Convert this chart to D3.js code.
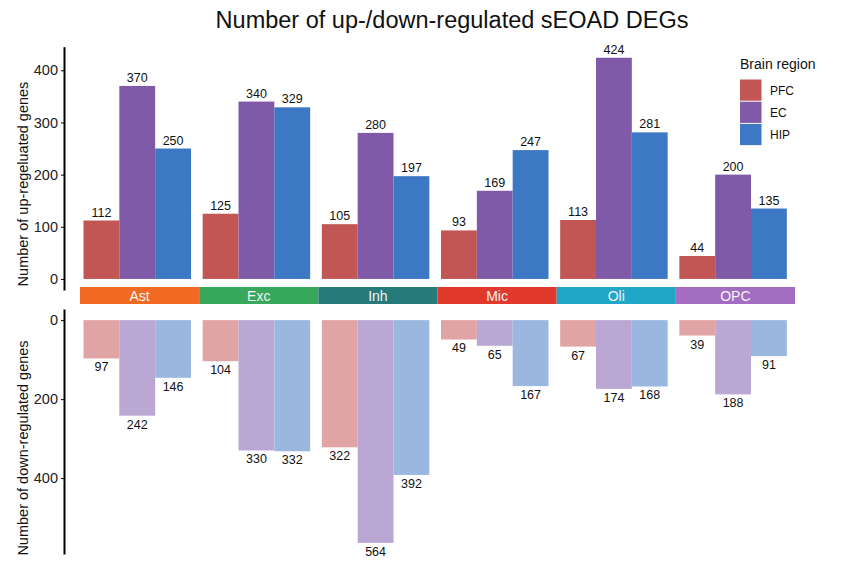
<!DOCTYPE html>
<html>
<head>
<meta charset="utf-8">
<script src="https://cdn.jsdelivr.net/npm/d3@7"></script>
<style>
  body { margin: 0; background: #fff; }
  svg { font-family: "Liberation Sans", Arial, sans-serif; }
</style>
</head>
<body>
<svg id="chart"></svg>
<script>
// data
const cellTypes = ['Ast', 'Exc', 'Inh', 'Mic', 'Oli', 'OPC'];
const regions = ['PFC', 'EC', 'HIP'];
const upPFC = [112, 125, 105, 93, 113, 44];
const upEC = [370, 340, 280, 169, 424, 200];
const upHIP = [250, 329, 197, 247, 281, 135];
const downPFC = [97, 104, 322, 49, 67, 39];
const downEC = [242, 330, 564, 65, 174, 188];
const downHIP = [146, 332, 392, 167, 168, 91];
const yTicksUp = [0, 100, 200, 300, 400];
const yTicksDown = [0, 200, 400];

const regionColors = {PFC: '#c25655', EC: '#8159a9', HIP: '#3d78c4'};
const regionLight = {PFC: '#dfa4a3', EC: '#bba7d4', HIP: '#9ab7e0'};
const stripColors = ['#f06a22', '#37a85b', '#277a7a', '#e1392b', '#20a7c8', '#a36dc3'];

const upData = [], downData = [];
cellTypes.forEach((c, i) => {
  upData.push({cell: c, region: 'PFC', value: upPFC[i]},
              {cell: c, region: 'EC', value: upEC[i]},
              {cell: c, region: 'HIP', value: upHIP[i]});
  downData.push({cell: c, region: 'PFC', value: downPFC[i]},
                {cell: c, region: 'EC', value: downEC[i]},
                {cell: c, region: 'HIP', value: downHIP[i]});
});

const W = 850, H = 564;
const svg = d3.select('#chart').attr('width', W).attr('height', H);

// layout
const axisX = 64;
const groupScale = d3.scaleBand().domain(cellTypes).range([80, 795]);
const barScale = d3.scaleBand().domain(regions).range([3.5, 111]);

// ggplot-like 5% expansion
const upMax = d3.max(upData, d => d.value);
const downMax = d3.max(downData, d => d.value);
const yUp = d3.scaleLinear()
  .domain([-upMax * 0.05, upMax * 1.05])
  .range([290, 46.7]);
const yDown = d3.scaleLinear()
  .domain([-downMax * 0.05, downMax * 1.05])
  .range([309, 554]);

// title
svg.append('text')
  .attr('x', 452).attr('y', 28)
  .attr('text-anchor', 'middle')
  .style('font-size', '23.5px')
  .style('fill', '#111')
  .text('Number of up-/down-regulated sEOAD DEGs');

// up bars
const upG = svg.append('g');
upG.selectAll('rect')
  .data(upData)
  .join('rect')
  .attr('x', d => groupScale(d.cell) + barScale(d.region))
  .attr('width', barScale.bandwidth())
  .attr('y', d => yUp(d.value))
  .attr('height', d => yUp(0) - yUp(d.value))
  .attr('fill', d => regionColors[d.region]);

upG.selectAll('text')
  .data(upData)
  .join('text')
  .attr('x', d => groupScale(d.cell) + barScale(d.region) + barScale.bandwidth() / 2)
  .attr('y', d => yUp(d.value) - 4)
  .attr('text-anchor', 'middle')
  .style('font-size', '12.5px')
  .style('fill', '#111')
  .text(d => d.value);

// down bars
const downG = svg.append('g');
downG.selectAll('rect')
  .data(downData)
  .join('rect')
  .attr('x', d => groupScale(d.cell) + barScale(d.region))
  .attr('width', barScale.bandwidth())
  .attr('y', yDown(0))
  .attr('height', d => yDown(d.value) - yDown(0))
  .attr('fill', d => regionLight[d.region]);

downG.selectAll('text')
  .data(downData)
  .join('text')
  .attr('x', d => groupScale(d.cell) + barScale(d.region) + barScale.bandwidth() / 2)
  .attr('y', d => yDown(d.value) + 13)
  .attr('text-anchor', 'middle')
  .style('font-size', '12.5px')
  .style('fill', '#111')
  .text(d => d.value);

// cell type strips
const strip = svg.append('g');
strip.selectAll('rect')
  .data(cellTypes)
  .join('rect')
  .attr('x', d => groupScale(d))
  .attr('width', groupScale.bandwidth())
  .attr('y', 287)
  .attr('height', 17)
  .attr('fill', (d, i) => stripColors[i]);
strip.selectAll('text')
  .data(cellTypes)
  .join('text')
  .attr('x', d => groupScale(d) + groupScale.bandwidth() / 2)
  .attr('y', 300.5)
  .attr('text-anchor', 'middle')
  .style('font-size', '14px')
  .style('fill', '#f4f4f4')
  .text(d => d);

// axes
const styleAxis = g => {
  g.select('.domain').attr('stroke', '#000').attr('stroke-width', 2);
  g.selectAll('.tick line').attr('stroke', '#000');
  g.selectAll('.tick text').style('font-size', '14.5px').style('fill', '#222')
    .style('font-family', '"Liberation Sans", Arial, sans-serif');
};
svg.append('g')
  .attr('transform', `translate(${axisX},0)`)
  .call(d3.axisLeft(yUp).tickValues(yTicksUp).tickSize(3).tickPadding(3).tickSizeOuter(0))
  .call(styleAxis);
svg.append('g')
  .attr('transform', `translate(${axisX},0)`)
  .call(d3.axisLeft(yDown).tickValues(yTicksDown).tickSize(3).tickPadding(3).tickSizeOuter(0))
  .call(styleAxis);

// axis titles
svg.append('text')
  .attr('transform', 'translate(28,184) rotate(-90)')
  .attr('text-anchor', 'middle')
  .style('font-size', '14.5px')
  .style('fill', '#111')
  .text('Number of up-regeluated genes');
svg.append('text')
  .attr('transform', 'translate(28,448) rotate(-90)')
  .attr('text-anchor', 'middle')
  .style('font-size', '14.5px')
  .style('fill', '#111')
  .text('Number of down-regulated genes');

// legend
const legend = svg.append('g').attr('transform', 'translate(740,0)');
legend.append('text')
  .attr('x', 0).attr('y', 69)
  .style('font-size', '14px')
  .style('fill', '#111')
  .text('Brain region');
legend.selectAll('rect')
  .data(regions)
  .join('rect')
  .attr('x', 0)
  .attr('y', (d, i) => 79.5 + i * 22.2)
  .attr('width', 21.5)
  .attr('height', 21.2)
  .attr('fill', d => regionColors[d]);
legend.selectAll('text.lab')
  .data(regions)
  .join('text')
  .attr('class', 'lab')
  .attr('x', 30)
  .attr('y', (d, i) => 94.5 + i * 22.2)
  .style('font-size', '12px')
  .style('fill', '#111')
  .text(d => d);
</script>
</body>
</html>
